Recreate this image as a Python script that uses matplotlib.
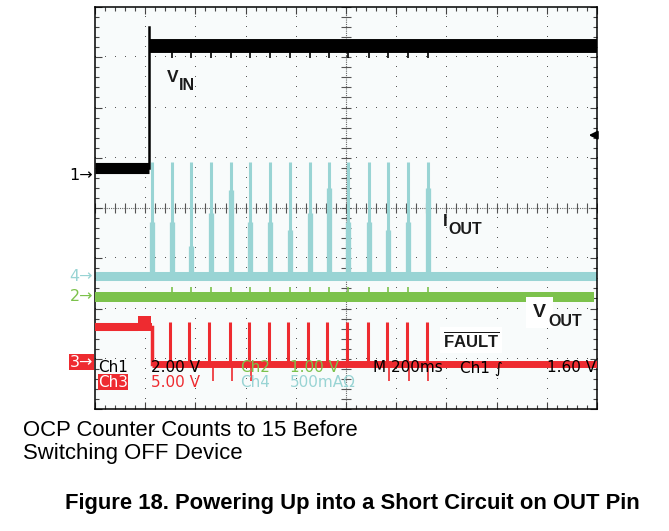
import numpy as np
import matplotlib.pyplot as plt

plt.rcParams['mathtext.fontset'] = 'custom'
plt.rcParams['mathtext.rm'] = 'Liberation Sans'
plt.rcParams['mathtext.bf'] = 'Liberation Sans:bold'

# scope screen in divisions: 10 x 8, 200 ms/div
vin_edge = 1.08
vin_low = 4.79
vin_high = 7.22
vin_overshoot = 7.60
vin_dip = 6.98

iout_base = 2.64
iout_t = [1.13, 1.53, 1.91, 2.31, 2.71, 3.09, 3.49, 3.88, 4.28, 4.66, 5.04, 5.46, 5.84, 6.24, 6.63]
iout_peak = [4.92, 4.92, 4.92, 4.92, 4.92, 4.92, 4.92, 4.92, 4.92, 4.92, 4.92, 4.92, 4.92, 4.92, 4.92]
iout_shoulder = [3.72, 3.72, 3.24, 3.90, 4.36, 3.72, 3.72, 3.56, 3.90, 4.40, 3.72, 3.72, 3.56, 3.72, 4.40]

vout_level = 2.23
vout_spike = 2.43

fault_high = 1.63
fault_bump = [0.86, 1.12, 1.85]
fault_edge = 1.13
fault_low = 0.905
fault_t = [1.50, 1.88, 2.28, 2.68, 3.06, 3.46, 3.85, 4.25, 4.63, 5.01, 5.43, 5.81, 6.21, 6.61]
fault_peak = 1.73
fault_dips_t = [2.35, 2.73, 3.10, 5.86, 6.25, 6.64]
fault_dip = 0.55

black = 'black'
cyan = '#99d4d4'
green = '#7cc24c'
red = '#ee2b30'

fig = plt.figure(figsize=(6.69, 5.31), dpi=100)
ax = fig.add_axes([95/669, 1-409/531, 502/669, 402/531])
ax.set_facecolor('#f8fbfb')
ax.set_xlim(0, 10)
ax.set_ylim(0, 8)
ax.set_xticks(np.arange(0, 11, 1))
ax.set_yticks(np.arange(0, 9, 1))
ax.set_xticks(np.arange(0, 10.01, 0.2), minor=True)
ax.set_yticks(np.arange(0, 8.01, 0.2), minor=True)
ax.tick_params(which='both', direction='in', top=True, right=True,
               labelbottom=False, labelleft=False, color='#444', width=0.8)
ax.tick_params(which='major', length=5)
ax.tick_params(which='minor', length=3)
for s in ax.spines.values():
    s.set_linewidth(1.1)

# dotted graticule
dots = np.arange(0, 10.01, 0.2)
for gx in [1, 2, 3, 4, 6, 7, 8, 9]:
    ax.plot(np.full(41, gx), np.arange(0, 8.01, 0.2), ',', color='#555', zorder=1)
for gy in [1, 2, 3, 5, 6, 7]:
    ax.plot(dots, np.full(len(dots), gy), ',', color='#555', zorder=1)
ax.axvline(5, ls=(0, (1, 1)), lw=0.8, color='#666', zorder=1)
ax.axhline(4, ls=(0, (1, 1)), lw=0.8, color='#666', zorder=1)
ax.plot(np.full(41, 5), np.arange(0, 8.01, 0.2), '_', ms=7, mew=0.8, color='#555', zorder=1)
ax.plot(dots, np.full(len(dots), 4), '|', ms=7, mew=0.8, color='#555', zorder=1)

# Ch4 - IOUT
ax.plot([0, 10], [iout_base, iout_base], color=cyan, lw=6.5, solid_capstyle='butt', zorder=2)
ax.vlines(iout_t, iout_base, iout_shoulder, color=cyan, lw=3.8, zorder=2)
ax.vlines(iout_t, iout_base, iout_peak, color=cyan, lw=2.2, zorder=2)

# Ch2 - VOUT
ax.plot([0, 9.95], [vout_level, vout_level], color=green, lw=7.2, solid_capstyle='butt', zorder=3)
ax.vlines(iout_t[1:], vout_level, vout_spike, color=green, lw=1.2, zorder=3)

# Ch3 - FAULT
ax.plot([0, fault_bump[0]], [fault_high, fault_high], color=red, lw=5.8, solid_capstyle='butt', zorder=4)
ax.fill_between([fault_bump[0], fault_bump[1]], fault_high - 0.08, fault_bump[2], color=red, lw=0, zorder=4)
ax.plot([fault_bump[1], fault_edge], [fault_high, fault_high], color=red, lw=5.8, solid_capstyle='butt', zorder=4)
ax.plot([fault_edge, fault_edge], [fault_low, fault_high], color=red, lw=2.5, zorder=4)
ax.plot([fault_edge, 10], [fault_low, fault_low], color=red, lw=5.0, solid_capstyle='butt', zorder=4)
ax.vlines(fault_t, fault_low, fault_peak, color=red, lw=2.2, zorder=4)
ax.vlines(fault_dips_t, fault_dip, fault_low, color=red, lw=1.2, zorder=4)

# Ch1 - VIN
ax.plot([0, vin_edge], [vin_low, vin_low], color=black, lw=8, solid_capstyle='butt', zorder=5)
ax.plot([vin_edge, vin_edge], [vin_low, vin_overshoot], color=black, lw=1.8, zorder=5)
ax.plot([vin_edge, 10], [vin_high, vin_high], color=black, lw=10, solid_capstyle='butt', zorder=5)
ax.vlines(iout_t[1:], vin_dip, vin_high, color=black, lw=1.2, zorder=5)

# trigger level marker
ax.annotate('', xy=(9.78, 5.45), xytext=(10.0, 5.45),
            arrowprops=dict(arrowstyle='-|>', color='black', lw=1.5, mutation_scale=12), zorder=6)

# channel ground markers
mk = dict(fontsize=11.5, ha='right', va='center', clip_on=False, family='DejaVu Sans')
ax.text(-0.04, 4.64, '1\u2192', color=black, **mk)
ax.text(-0.04, 2.63, '4\u2192', color=cyan, **mk)
ax.text(-0.04, 2.23, '2\u2192', color=green, **mk)
ax.text(-0.04, 0.93, '3\u2192', color='white', bbox=dict(facecolor=red, edgecolor='none', pad=0.5), **mk)

# scope readout
ro = dict(fontsize=11, va='center', family='DejaVu Sans', zorder=8)
ax.text(0.06, 0.816, 'Ch1', color=black, **ro)
ax.text(1.12, 0.816, '2.00 V', color=black, **ro)
ax.text(2.89, 0.816, 'Ch2', color=green, **ro)
ax.text(3.88, 0.816, '1.00 V', color=green, **ro)
ax.text(5.54, 0.816, 'M 200ms', color=black, **ro)
ax.text(7.27, 0.816, 'Ch1 \u222b', color=black, **ro)
ax.text(9.98, 0.816, '1.60 V', color=black, ha='right', **ro)
ax.text(0.06, 0.537, 'Ch3', color='white', bbox=dict(facecolor=red, edgecolor='none', pad=0.3), **ro)
ax.text(1.12, 0.537, '5.00 V', color=red, **ro)
ax.text(2.89, 0.537, 'Ch4', color=cyan, **ro)
ax.text(3.88, 0.537, '500mA\u03a9', color=cyan, **ro)

# trace labels
lb = dict(family='Liberation Sans', fontweight='bold', color='#1a1a1a', zorder=7, va='center')
ax.text(1.43, 6.6, 'V', fontsize=12.5, **lb)
ax.text(1.67, 6.43, 'IN', fontsize=11.5, **lb)
ax.text(6.93, 3.74, 'I', fontsize=12.5, **lb)
ax.text(7.04, 3.57, 'OUT', fontsize=11.5, **lb)
ax.text(8.73, 1.93, 'V', fontsize=14, bbox=dict(facecolor='white', edgecolor='none', pad=5), **lb)
ax.text(9.04, 1.74, 'OUT', fontsize=11.5, **lb)
ax.text(6.93, 1.37, r'$\overline{\mathbf{FAULT}}$', fontsize=12,
        bbox=dict(facecolor='white', edgecolor='none', pad=2), **lb)

fig.text(23/669, 1-430/531, 'OCP Counter Counts to 15 Before', fontsize=15.9,
         family='Liberation Sans', va='center')
fig.text(23/669, 1-453/531, 'Switching OFF Device', fontsize=15.9,
         family='Liberation Sans', va='center')
fig.text(65/669, 1-503/531, 'Figure 18. Powering Up into a Short Circuit on OUT Pin',
         fontsize=15.8, fontweight='bold', family='Liberation Sans', va='center')

fig.savefig('out.png', dpi=100)
